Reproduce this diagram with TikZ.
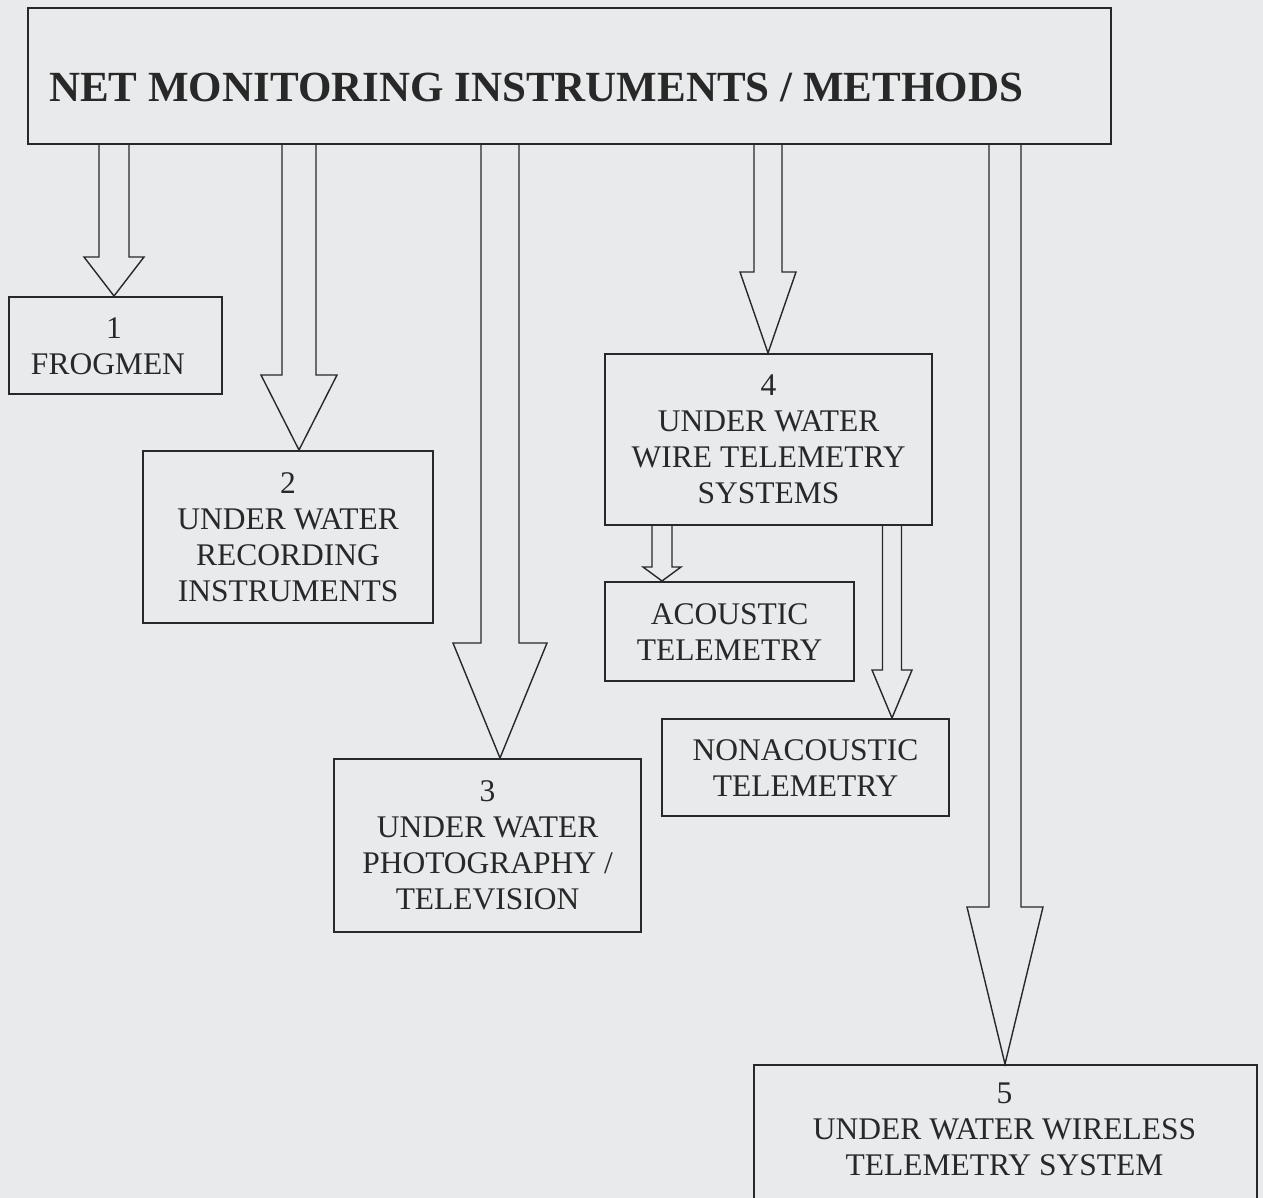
\documentclass[tikz,border=0pt]{standalone}
\usepackage{fontspec}
\setmainfont{Liberation Serif}
\definecolor{paper}{RGB}{232,234,236}
\definecolor{ink}{RGB}{40,40,40}
% #1 from node, #2 to node, #3 tip x, #4 half shaft, #5 half head, #6 head start y
\newcommand\fatarrow[6]{%
  \draw[arr] (#1.south -| #3-#4,0) -- (#3-#4,#6) -- (#3-#5,#6) -- (#2.north -| #3,0)
    -- (#3+#5,#6) -- (#3+#4,#6) -- (#1.south -| #3+#4,0);}
\begin{document}
\begin{tikzpicture}[x=1pt,y=-1pt,
  box/.style={draw=ink, line width=2.2pt, inner sep=0pt, anchor=north west,
    align=center, text=ink, font=\fontsize{31.5}{36}\selectfont},
  txt/.style={inner sep=0pt, align=center, text=ink, font=\fontsize{31.5}{36}\selectfont},
  arr/.style={draw=ink, line width=1.4pt, fill=paper, line join=miter}]
\fill[paper] (0,0) rectangle (1263,1198);
\useasboundingbox (0,0) rectangle (1263,1198);

\node[box, minimum width=1083, minimum height=136] (title) at (27,7) {};
\node[anchor=base west, inner sep=0pt, text=ink, font=\bfseries\fontsize{43}{50}\selectfont] (tt) at (49,102) {NET MONITORING INSTRUMENTS / METHODS};

\node[box, minimum width=213, minimum height=97] (b1) at (8,296) {};
\node[txt] (b1t) at (108,346) {\hspace*{12pt}1\\FROGMEN};
\node[box, minimum width=290, minimum height=172] (b2) at (142,450) {2\\UNDER WATER\\RECORDING\\INSTRUMENTS};
\node[box, minimum width=307, minimum height=173] (b3) at (333,758) {3\\UNDER WATER\\PHOTOGRAPHY /\\TELEVISION};
\node[box, minimum width=327, minimum height=171] (b4) at (604,353) {4\\UNDER WATER\\WIRE TELEMETRY\\SYSTEMS};
\node[box, minimum width=249, minimum height=99] (ac) at (604,581) {ACOUSTIC\\TELEMETRY};
\node[box, minimum width=287, minimum height=97] (nac) at (661,718) {NONACOUSTIC\\TELEMETRY};
\node[box, minimum width=503, minimum height=150] (b5) at (753,1064) {};
\node[txt] (b5t) at (1004.5,1129) {5\\UNDER WATER WIRELESS\\TELEMETRY SYSTEM};

\fatarrow{title}{b1}{114}{15}{30}{257}
\fatarrow{title}{b2}{299}{17}{38}{375}
\fatarrow{title}{b3}{500}{19}{47}{643}
\fatarrow{title}{b4}{768}{14}{28}{272}
\fatarrow{title}{b5}{1005}{16}{38}{907}
\fatarrow{b4}{ac}{662}{10}{19}{567}
\fatarrow{b4}{nac}{892}{9.5}{20}{670}
\end{tikzpicture}
\end{document}
